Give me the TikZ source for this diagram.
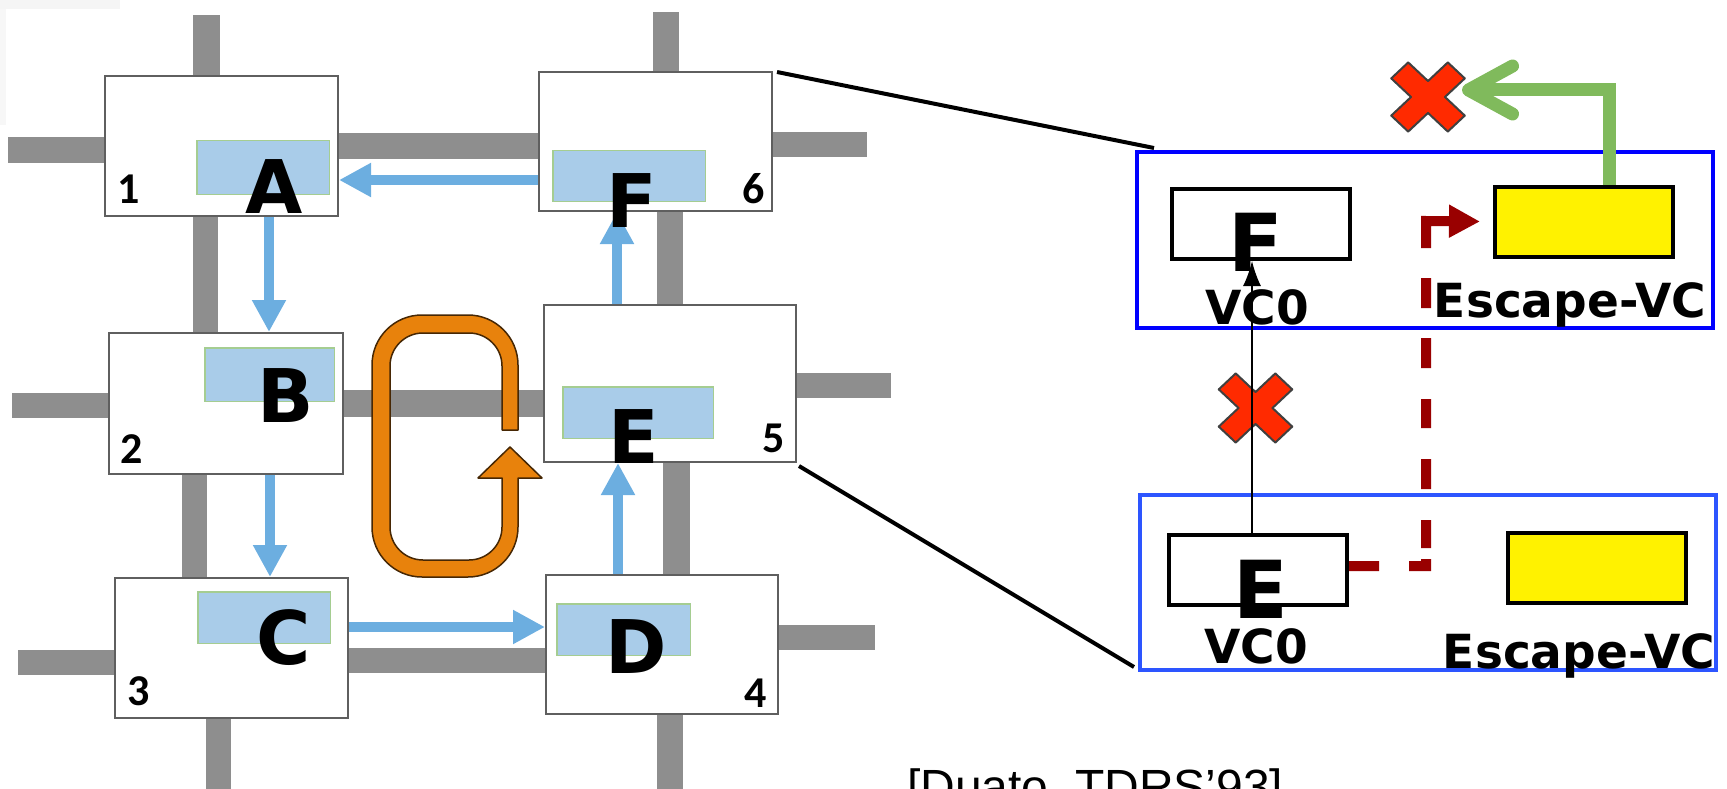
\documentclass[tikz,border=0pt]{standalone}
\usepackage{fontspec}
\setmainfont{DejaVu Sans}
\newfontfamily\bigf{DejaVu Sans}
\newfontfamily\numf{Carlito}
\newfontfamily\citef{Liberation Sans}
\usetikzlibrary{arrows.meta,calc}
\definecolor{linkgray}{RGB}{142,142,142}
\definecolor{bufblue}{RGB}{169,204,233}
\definecolor{bufgreen}{RGB}{165,205,145}
\definecolor{arrblue}{RGB}{108,174,224}
\definecolor{loopor}{RGB}{232,130,12}
\definecolor{vcblue}{RGB}{0,0,255}
\definecolor{vcbluetwo}{RGB}{45,85,255}
\definecolor{dred}{RGB}{153,0,0}
\definecolor{xred}{RGB}{255,42,0}
\definecolor{egreen}{RGB}{128,186,92}
\definecolor{boxgray}{RGB}{95,95,95}
\tikzset{
  router/.style={draw=boxgray, line width=2pt, fill=white, inner sep=0},
  buffer/.style={draw=bufgreen, line width=1.5pt, fill=bufblue, inner sep=0},
  barrow/.style={draw=arrblue, line width=9.5pt, -{Triangle[length=32pt,width=32pt]}},
  letter/.style={font=\bigf\bfseries\fontsize{74}{74}\selectfont, inner sep=0, anchor=base},
  num/.style={font=\numf\bfseries\fontsize{44}{44}\selectfont, inner sep=0, anchor=base},
  vcframe/.style={line width=4pt, inner sep=0},
  vcbox/.style={draw=black, line width=4pt, fill=white, inner sep=0, minimum width=178pt, minimum height=70pt},
  ybox/.style={draw=black, line width=4pt, fill=yellow, inner sep=0, minimum width=178pt, minimum height=70pt},
  bigvc/.style={font=\bigf\bfseries\fontsize{80}{80}\selectfont, inner sep=0, anchor=base},
  vclabel/.style={font=\bigf\bfseries\fontsize{47}{47}\selectfont, inner sep=0, anchor=base},
  zoomline/.style={draw=black, line width=4pt},
  redx/.pic={\path[fill=xred, draw=black!75, line width=2pt, line join=round, yscale=0.94, rotate=45]
     (12,40) -- (12,12) -- (40,12) -- (40,-12) -- (12,-12) -- (12,-40) -- (-12,-40) -- (-12,-12)
     -- (-40,-12) -- (-40,12) -- (-12,12) -- (-12,40) -- cycle;}
}
\begin{document}
\begin{tikzpicture}[x=1pt,y=-1pt]
\useasboundingbox (0,0) rectangle (1727,789);
\clip (0,0) rectangle (1727,789);
% faint frame remnant
\fill[black!4] (0,0) rectangle (120,9);
\fill[black!3] (0,9) rectangle (6,125);
% links
\fill[linkgray] (193,15) rectangle (220,75);
\fill[linkgray] (8,137) rectangle (104,163);
\fill[linkgray] (339,133) rectangle (538,159);
\fill[linkgray] (193,217) rectangle (218,332);
\fill[linkgray] (653,12) rectangle (679,71);
\fill[linkgray] (773,132) rectangle (867,157);
\fill[linkgray] (657,212) rectangle (683,304);
\fill[linkgray] (12,393) rectangle (108,418);
\fill[linkgray] (344,390) rectangle (543,417);
\fill[linkgray] (797,373) rectangle (891,398);
\fill[linkgray] (182,475) rectangle (207,577);
\fill[linkgray] (663,463) rectangle (690,574);
\fill[linkgray] (18,650) rectangle (114,675);
\fill[linkgray] (349,648) rectangle (545,673);
\fill[linkgray] (779,625) rectangle (875,650);
\fill[linkgray] (206,719) rectangle (231,789);
\fill[linkgray] (657,715) rectangle (683,789);
% routers
\node[router, minimum width=233pt, minimum height=140pt] (r1) at (221.5,146) {};
\node[router, minimum width=234pt, minimum height=141pt] (r2) at (226,403.5) {};
\node[router, minimum width=233pt, minimum height=140pt] (r3) at (231.5,648) {};
\node[router, minimum width=232pt, minimum height=139pt] (r4) at (662,644.5) {};
\node[router, minimum width=252pt, minimum height=157pt] (r5) at (670,383.5) {};
\node[router, minimum width=233pt, minimum height=139pt] (r6) at (655.5,141.5) {};
% buffers
\node[buffer, minimum width=132.5pt, minimum height=53.5pt] (bA) at (263,167.5) {};
\node[buffer, minimum width=129.5pt, minimum height=53.5pt] (bB) at (269.5,374.5) {};
\node[buffer, minimum width=132.5pt, minimum height=51.5pt] (bC) at (264,617.5) {};
\node[buffer, minimum width=133.5pt, minimum height=51.5pt] (bD) at (623.5,629.5) {};
\node[buffer, minimum width=150.5pt, minimum height=51.5pt] (bE) at (638,412.5) {};
\node[buffer, minimum width=152.5pt, minimum height=50.5pt] (bF) at (629,176) {};
% blue flow arrows
\draw[barrow] (r6.west |- 0,180) -- (r1.east |- 0,180);
\draw[barrow] (269,0 |- r1.south) -- (269,0 |- r2.north);
\draw[barrow] (270,0 |- r2.south) -- (270,0 |- r3.north);
\draw[barrow] (r3.east |- 0,627) -- (r4.west |- 0,627);
\draw[barrow] (618,0 |- r4.north) -- (618,0 |- r5.south);
\draw[barrow] (617,0 |- r5.north) -- (617,0 |- r6.south);
% orange cycle
\draw[fill=loopor, draw=black!70!loopor, line width=1.5pt, line join=round]
 (518,430) -- (518,365) .. controls (518,337.4) and (495.6,315) .. (468,315)
 -- (422,315) .. controls (394.4,315) and (372,337.4) .. (372,365)
 -- (372,527) .. controls (372,554.6) and (394.4,577) .. (422,577)
 -- (468,577) .. controls (495.6,577) and (518,554.6) .. (518,527)
 -- (518,478) -- (542,478) -- (510,447) -- (478,478) -- (502,478)
 -- (502,527) .. controls (502,545.2) and (487.2,560) .. (469,560)
 -- (423,560) .. controls (404.8,560) and (390,545.2) .. (390,527)
 -- (390,366) .. controls (390,347.8) and (404.8,333) .. (423,333)
 -- (469,333) .. controls (487.2,333) and (502,347.8) .. (502,366)
 -- (502,430) -- cycle;
% letters
\node[letter] (lA) at (274,213) {A};
\node[letter] (lB) at (285.5,422) {B};
\node[letter] (lC) at (283.5,664) {C};
\node[letter] (lD) at (636,673) {D};
\node[letter] (lE) at (634,463) {E};
\node[letter] (lF) at (632,227) {F};
\node[num] (n1) at (128.5,204) {1};
\node[num] (n2) at (132,463) {2};
\node[num] (n3) at (139,705) {3};
\node[num] (n4) at (756,707) {4};
\node[num] (n5) at (773.5,452) {5};
\node[num] (n6) at (753.5,203) {6};
% right panel
\node[vcframe, draw=vcblue, minimum width=576pt, minimum height=176pt] (btop) at (1425,240) {};
\node[vcframe, draw=vcbluetwo, minimum width=576pt, minimum height=175pt] (bbot) at (1428,582.5) {};
\draw[zoomline] ($(r6.north east)+(4,1)$) -- ($(btop.north west)+(19,-2)$);
\draw[zoomline] ($(r5.south east)+(2,3)$) -- ($(bbot.south west)+(-4,-5)$);
\node[vcbox] (vc0t) at (1261,224) {};
\node[ybox] (ylt) at (1584,221.5) {};
\node[vcbox] (vc0b) at (1258,570) {};
\node[ybox] (ylb) at (1597,568) {};
% escape path (dashed)
\draw[dred, line width=10pt, line join=miter,
  dash pattern=on 30pt off 30pt on 24pt off 11pt on 28pt off 31pt on 30pt off 31pt on 29pt off 31pt on 30pt off 30pt on 30pt off 30pt on 100pt,
  -{Triangle[length=31pt,width=31pt]}]
  (vc0b.east |- 0,566) -- (1426,566) -- (1426,221) -- (ylt.west -| 1480,0);
% crosses
\coordinate (xt) at (1428,97);
\coordinate (xm) at (1255.5,408);
\draw[egreen, line width=13pt, line join=miter, -{Straight Barb[length=44pt,width=48pt,round]}]
  (1609,0 |- ylt.north) -- (1609,90) -- ($(xt)+(34,-7)$);
\pic at (xt) {redx};
\pic at (xm) {redx};
% thin blocked dependency
\draw[black, line width=1.5pt, -{Latex[length=25pt,width=18pt]}] (1252,0 |- vc0b.north) -- (1252,0 |- vc0t.south);
% right labels
\node[bigvc] (tF) at (1255.5,271) {F};
\node[bigvc] (tE) at (1261,618) {E};
\node[vclabel] (vt) at (1257,324) {VC0};
\node[vclabel] (vb) at (1256,663) {VC0};
\node[vclabel] (et) at (1570,317) {Escape-VC};
\node[vclabel] (eb) at (1579,668) {Escape-VC};
% citation
\node[font=\citef\fontsize{48}{48}\selectfont, anchor=base west, inner sep=0] (cite) at (907,803) {[Duato, TDRS’93]};
\end{tikzpicture}
\end{document}
